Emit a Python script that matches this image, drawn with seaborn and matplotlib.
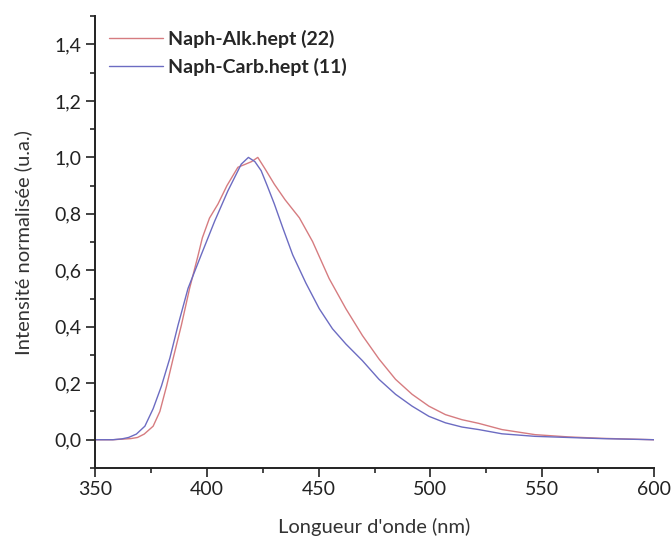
import pandas as pd
import seaborn as sns
import matplotlib.pyplot as plt
from matplotlib.ticker import MultipleLocator, FuncFormatter

# values
wl_alk = [350, 358, 362, 366, 369, 372, 376, 379, 382, 385, 388.6, 392.3, 396, 398, 401.2,
          405, 409, 413.9, 417, 420, 422.8, 426, 430.2, 435, 441.4, 447.3, 454.7, 462.2,
          469.6, 477, 484.4, 491.8, 499.3, 506.7, 514.1, 521.6, 532, 546.8, 561.7, 576.5, 600]
int_alk = [0.0, 0.0, 0.002, 0.004, 0.008, 0.02, 0.048, 0.1, 0.19, 0.29, 0.405, 0.536, 0.65,
           0.715, 0.785, 0.835, 0.9, 0.965, 0.975, 0.985, 1.0, 0.96, 0.905, 0.85, 0.786, 0.702,
           0.571, 0.464, 0.369, 0.286, 0.214, 0.161, 0.119, 0.089, 0.071, 0.058, 0.036, 0.018,
           0.01, 0.005, 0.0]

wl_carb = [350, 358, 362, 365, 368.5, 372.3, 376, 379.7, 383.5, 387.1, 391.6, 397.5, 403.5,
           409.4, 415.4, 418.6, 421.5, 424.3, 427, 430.2, 434, 438.4, 444.3, 450.3,
           456.2, 462.2, 469.6, 477, 484.4, 491.8, 499.3, 506.7, 514.1, 521.6, 532, 546.8,
           561.7, 576.5, 600]
int_carb = [0.0, 0.0, 0.003, 0.008, 0.02, 0.048, 0.11, 0.19, 0.29, 0.405, 0.536, 0.655, 0.774,
            0.881, 0.976, 1.0, 0.985, 0.953, 0.9, 0.835, 0.75, 0.655, 0.555, 0.464,
            0.393, 0.339, 0.28, 0.214, 0.161, 0.119, 0.083, 0.06, 0.045, 0.036, 0.021, 0.012,
            0.008, 0.004, 0.0]

labels = ['Naph-Alk.hept (22)', 'Naph-Carb.hept (11)']
colors = ['#d67c80', '#6c6cc2']

df = pd.concat([
    pd.DataFrame({'wl': wl_alk, 'val': int_alk, 'serie': labels[0]}),
    pd.DataFrame({'wl': wl_carb, 'val': int_carb, 'serie': labels[1]}),
])

sns.set_style('ticks')
plt.rcParams['font.family'] = ['Lato', 'DejaVu Sans']

fig = plt.figure(figsize=(6.72, 5.41), dpi=100)
ax = fig.add_axes([0.1414, 0.135, 0.8318, 0.835])

sns.lineplot(data=df, x='wl', y='val', hue='serie', palette=colors, lw=1.0, ax=ax)

ax.set_xlim(350, 600)
ax.set_ylim(-0.1, 1.5)
ax.xaxis.set_major_locator(MultipleLocator(50))
ax.xaxis.set_minor_locator(MultipleLocator(25))
ax.yaxis.set_minor_locator(MultipleLocator(0.1))
ax.set_yticks([0, 0.2, 0.4, 0.6, 0.8, 1.0, 1.2, 1.4])
ax.yaxis.set_major_formatter(FuncFormatter(lambda v, p: f'{v:.1f}'.replace('.', ',')))

ax.tick_params(which='major', direction='out', length=6.5, width=1.2, labelsize=14,
               colors='#222222', pad=3)
ax.tick_params(which='minor', direction='out', length=3.5, width=1.2)
for s in ['left', 'bottom']:
    ax.spines[s].set_linewidth(1.4)
    ax.spines[s].set_color('#222222')
sns.despine(ax=ax)

ax.set_xlabel("Longueur d'onde (nm)", fontsize=14.5, labelpad=14, color='#333333')
ax.set_ylabel('Intensité normalisée (u.a.)', fontsize=14.5, labelpad=16, color='#333333')

ax.legend(loc='upper left', bbox_to_anchor=(0.0, 1.0), frameon=False,
          handlelength=2.8, handletextpad=0.25, labelspacing=0.5,
          borderaxespad=0.3, prop={'weight': 'bold', 'size': 14})

plt.savefig('out.png', dpi=100)
